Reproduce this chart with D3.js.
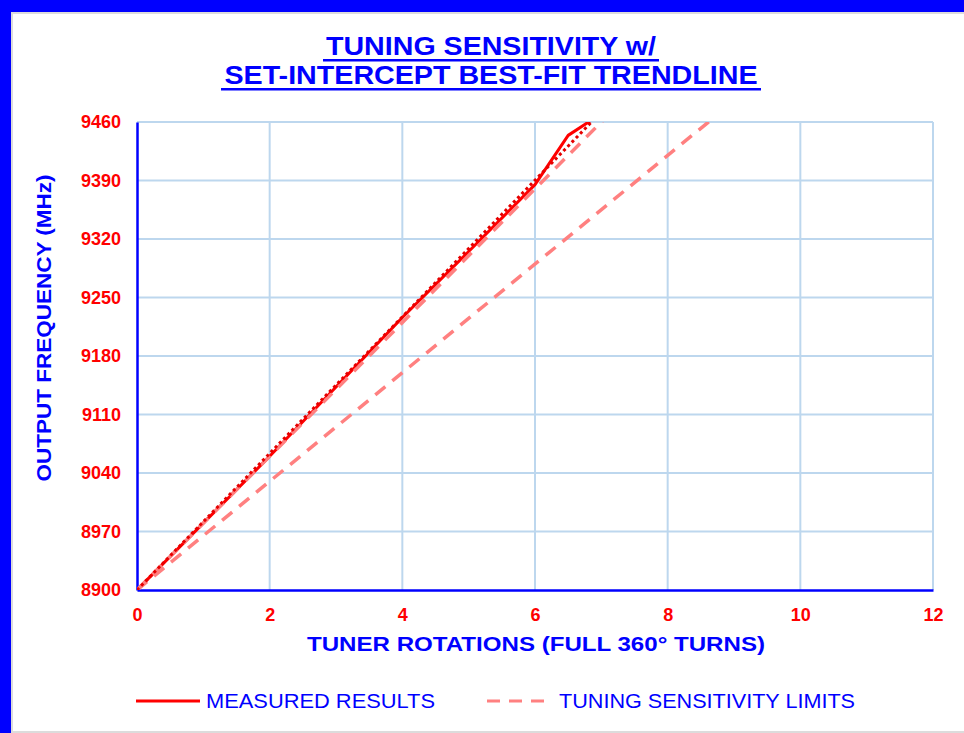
<!DOCTYPE html>
<html>
<head>
<meta charset="utf-8">
<script src="https://cdn.jsdelivr.net/npm/d3@7"></script>
<style>
  body { margin: 0; background: #fff; }
  text { font-family: "Liberation Sans", Arial, sans-serif; }
</style>
</head>
<body>
<div id="Area"></div>
<script>
// data
var turns = [0, 1, 2, 3, 4, 5, 6, 6.5, 7];
var measuredMHz = [8900, 8980, 9060, 9143, 9226, 9305, 9385, 9444, 9470];
var limitSlopes = [80, 65]; // MHz per turn
var xTicks = [0, 2, 4, 6, 8, 10, 12];
var yTicks = [8900, 8970, 9040, 9110, 9180, 9250, 9320, 9390, 9460];
var legendLabels = ["MEASURED RESULTS", "TUNING SENSITIVITY LIMITS"];

var W = 964, H = 733;
var plot = { left: 137, right: 933, top: 122, bottom: 590 };
var blue = "#0000ff", red = "#ff0000", pink = "#ff8080", grid = "#bdd7ee";

var svg = d3.select("#Area").append("svg")
  .attr("width", W)
  .attr("height", H);

// frame of the picture
svg.append("rect").attr("x", 0).attr("y", 0).attr("width", W).attr("height", 12).attr("fill", blue);
svg.append("rect").attr("x", 0).attr("y", 0).attr("width", 11).attr("height", H).attr("fill", blue);
svg.append("rect").attr("x", 11).attr("y", 12).attr("width", W - 11).attr("height", 2).attr("fill", "#dcdcdc");
svg.append("rect").attr("x", 11).attr("y", 12).attr("width", 2).attr("height", H).attr("fill", "#dcdcdc");
svg.append("rect").attr("x", 11).attr("y", H - 2).attr("width", W - 11).attr("height", 2).attr("fill", "#dcdcdc");

var x = d3.scaleLinear().domain([0, 12]).range([plot.left, plot.right]);
var y = d3.scaleLinear().domain([8900, 9460]).range([plot.bottom, plot.top]);

// gridlines
svg.append("g").selectAll("line.v")
  .data(xTicks.slice(1))
  .enter().append("line")
  .attr("x1", function (d) { return x(d); }).attr("x2", function (d) { return x(d); })
  .attr("y1", plot.top).attr("y2", plot.bottom)
  .attr("stroke", grid).attr("stroke-width", 2);
svg.append("g").selectAll("line.h")
  .data(yTicks.slice(1))
  .enter().append("line")
  .attr("x1", plot.left).attr("x2", plot.right)
  .attr("y1", function (d) { return y(d); }).attr("y2", function (d) { return y(d); })
  .attr("stroke", grid).attr("stroke-width", 2);

// axes
var xAxis = svg.append("g")
  .attr("transform", "translate(0," + plot.bottom + ")")
  .call(d3.axisBottom(x).tickValues(xTicks).tickSize(0).tickPadding(18).tickFormat(d3.format("d")));
var yAxis = svg.append("g")
  .attr("transform", "translate(" + plot.left + ",0)")
  .call(d3.axisLeft(y).tickValues(yTicks).tickSize(0).tickPadding(16).tickFormat(d3.format("d")));
[xAxis, yAxis].forEach(function (a) {
  a.select(".domain").attr("stroke", blue).attr("stroke-width", 2.5);
  a.selectAll("text")
    .attr("fill", red)
    .style("font-family", "'Liberation Sans', Arial, sans-serif")
    .style("font-weight", "bold")
    .style("font-size", "18px");
});

// clip for the series
svg.append("clipPath").attr("id", "clip")
  .append("rect")
  .attr("x", plot.left).attr("y", plot.top)
  .attr("width", plot.right - plot.left).attr("height", plot.bottom - plot.top);

var line = d3.line()
  .x(function (d) { return x(d[0]); })
  .y(function (d) { return y(d[1]); });

var series = svg.append("g").attr("clip-path", "url(#clip)");

var measured = turns.map(function (t, i) { return [t, measuredMHz[i]]; });
series.append("path")
  .datum(measured)
  .attr("d", line)
  .attr("fill", "none")
  .attr("stroke", red)
  .attr("stroke-width", 3)
  .attr("stroke-linejoin", "round");

// tuning sensitivity limits
limitSlopes.forEach(function (s) {
  series.append("path")
    .datum([[0, 8900], [12, 8900 + s * 12]])
    .attr("d", line)
    .attr("fill", "none")
    .attr("stroke", pink)
    .attr("stroke-width", 3.5)
    .attr("stroke-dasharray", "13,9");
});

// set-intercept best fit (least squares through 8900)
var sxy = 0, sxx = 0;
measured.forEach(function (d) { sxy += d[0] * (d[1] - 8900); sxx += d[0] * d[0]; });
var slope = sxy / sxx;
series.append("path")
  .datum([[0, 8900], [12, 8900 + slope * 12]])
  .attr("d", line)
  .attr("fill", "none")
  .attr("stroke", "#e60000")
  .attr("stroke-width", 3)
  .attr("stroke-dasharray", "3,3");

// titles
var titles = [
  { t: "TUNING SENSITIVITY w/", y: 55, len: 330, ul: 336, uy: 59 },
  { t: "SET-INTERCEPT BEST-FIT TRENDLINE", y: 84, len: 533, ul: 540, uy: 88 }
];
titles.forEach(function (d) {
  svg.append("text")
    .attr("x", 491).attr("y", d.y)
    .attr("text-anchor", "middle")
    .attr("fill", blue)
    .attr("textLength", d.len)
    .attr("lengthAdjust", "spacingAndGlyphs")
    .style("font-weight", "bold")
    .style("font-size", "25px")
    .text(d.t);
  svg.append("rect")
    .attr("x", 491 - d.ul / 2).attr("y", d.uy)
    .attr("width", d.ul).attr("height", 2.5)
    .attr("fill", blue);
});

svg.append("text")
  .attr("x", 536).attr("y", 651)
  .attr("text-anchor", "middle")
  .attr("fill", blue)
  .attr("textLength", 458)
  .attr("lengthAdjust", "spacingAndGlyphs")
  .style("font-weight", "bold")
  .style("font-size", "21px")
  .text("TUNER ROTATIONS (FULL 360\u00b0 TURNS)");

svg.append("text")
  .attr("transform", "translate(51,328) rotate(-90)")
  .attr("text-anchor", "middle")
  .attr("fill", blue)
  .attr("textLength", 307)
  .attr("lengthAdjust", "spacingAndGlyphs")
  .style("font-weight", "bold")
  .style("font-size", "21px")
  .text("OUTPUT FREQUENCY (MHz)");

// legend
var legend = [
  { x1: 136, x2: 200, tx: 206, len: 229, color: red, dash: null },
  { x1: 487, x2: 549, tx: 559, len: 296, color: pink, dash: "13,9" }
];
legend.forEach(function (d, i) {
  svg.append("line")
    .attr("x1", d.x1).attr("x2", d.x2)
    .attr("y1", 701).attr("y2", 701)
    .attr("stroke", d.color)
    .attr("stroke-width", 3)
    .attr("stroke-dasharray", d.dash);
  svg.append("text")
    .attr("x", d.tx).attr("y", 708)
    .attr("fill", blue)
    .attr("textLength", d.len)
    .attr("lengthAdjust", "spacingAndGlyphs")
    .style("font-size", "20px")
    .text(legendLabels[i]);
});
</script>
</body>
</html>
